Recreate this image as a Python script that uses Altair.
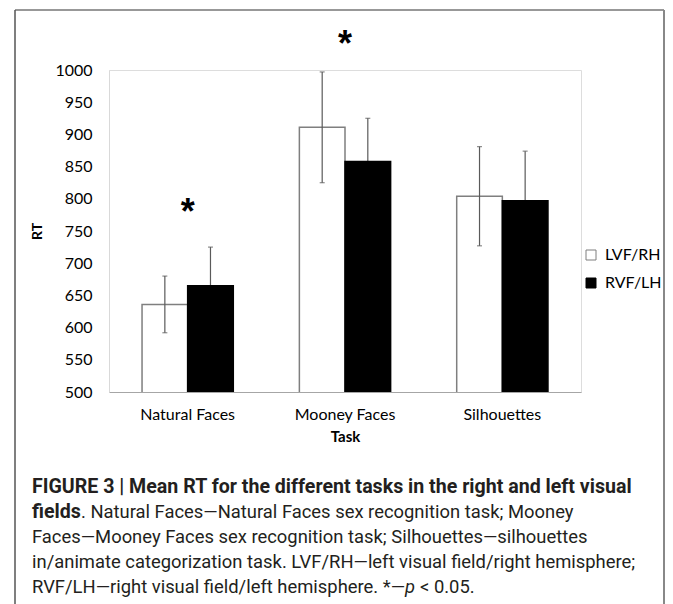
import altair as alt
import pandas as pd

tasks = ["Natural Faces", "Mooney Faces", "Silhouettes"]
fields = ["LVF/RH", "RVF/LH"]
lvf_mean = [636, 911, 804]
rvf_mean = [665, 858, 797]
lvf_err = [44, 86, 77]
rvf_err = [60, 67, 77]
sig_tasks = ["Natural Faces", "Mooney Faces"]
sig_marks = ["*", "*"]
y_ticks = [500, 550, 600, 650, 700, 750, 800, 850, 900, 950, 1000]

caption_1 = "FIGURE 3 | Mean RT for the different tasks in the right and left visual"
caption_2a = "fields"
caption_2b = ". Natural Faces\u2014Natural Faces sex recognition task; Mooney"
caption_3 = "Faces\u2014Mooney Faces sex recognition task; Silhouettes\u2014silhouettes"
caption_4 = "in/animate categorization task. LVF/RH\u2014left visual field/right hemisphere;"
caption_5a = "RVF/LH\u2014right visual field/left hemisphere. *\u2014"
caption_5b = "p"
caption_5c = "< 0.05."

rows = []
for i, t in enumerate(tasks):
    rows.append({"Task": t, "Field": fields[0], "RT": lvf_mean[i],
                 "lo": lvf_mean[i] - lvf_err[i], "hi": lvf_mean[i] + lvf_err[i]})
    rows.append({"Task": t, "Field": fields[1], "RT": rvf_mean[i],
                 "lo": rvf_mean[i] - rvf_err[i], "hi": rvf_mean[i] + rvf_err[i]})
df = pd.DataFrame(rows)
sig_df = pd.DataFrame({"Task": sig_tasks, "mark": sig_marks})
one = pd.DataFrame({"a": [0]})

FONT = "Lato"
CAP_FONT = "Roboto"
ERR_COLOR = "#5a5a5a"

x_axis = alt.Axis(title="Task", labelAngle=0, ticks=False,
                  domainColor="#a6a6a6", domainWidth=1.2,
                  labelFont=FONT, labelFontSize=16, labelColor="#000",
                  labelPadding=14, titleFont=FONT, titleFontSize=15,
                  titleFontWeight="bold", titleColor="#000", titlePadding=7)
x_scale = alt.Scale(paddingInner=0.42, paddingOuter=0.21)
x_enc = alt.X("Task:N", sort=tasks, scale=x_scale, axis=x_axis)
xo_enc = alt.XOffset("Field:N", sort=fields)

y_scale = alt.Scale(domain=[500, 1000], nice=False, zero=False)
y_axis = alt.Axis(values=y_ticks, format="d", grid=False, ticks=False,
                  domainColor="#d9d9d9", labelFont=FONT, labelFontSize=16,
                  labelColor="#000", labelPadding=17, title="RT",
                  titleFont=FONT, titleFontSize=14, titleFontWeight="bold",
                  titleColor="#000", titlePadding=10)

def Y(field):
    return alt.Y(field, scale=y_scale, axis=y_axis)

base = alt.Chart(df)

def errbars(field):
    b = base.transform_filter(alt.datum.Field == field)
    rule = b.mark_rule(color=ERR_COLOR, strokeWidth=1.2).encode(
        x=x_enc, xOffset=xo_enc, y=Y("lo:Q"), y2="hi:Q")
    cap_hi = b.mark_tick(color=ERR_COLOR, thickness=1.2, size=5).encode(
        x=x_enc, xOffset=xo_enc, y=Y("hi:Q"))
    cap_lo = b.mark_tick(color=ERR_COLOR, thickness=1.2, size=5).encode(
        x=x_enc, xOffset=xo_enc, y=Y("lo:Q"))
    return rule + cap_hi + cap_lo

bars = base.mark_bar(strokeWidth=1.5, clip=True).encode(
    x=x_enc, xOffset=xo_enc, y=Y("RT:Q"),
    color=alt.Color("Field:N", sort=fields,
                    scale=alt.Scale(domain=fields, range=["#ffffff", "#000000"]),
                    legend=alt.Legend(title=None, orient="none", legendX=474, legendY=177,
                                      symbolType="square", symbolSize=100,
                                      symbolStrokeColor="#404040", symbolStrokeWidth=1,
                                      labelFont=FONT, labelFontSize=16, labelColor="#000",
                                      labelOffset=6, rowPadding=12, padding=0)),
    stroke=alt.Stroke("Field:N", sort=fields,
                      scale=alt.Scale(domain=fields, range=["#7f7f7f", "#000000"]),
                      legend=None),
)

def star(task, ypix):
    return alt.Chart(sig_df).transform_filter(alt.datum.Task == task).mark_text(
        font="Liberation Sans", fontWeight="bold", fontSize=36, color="#000",
        baseline="alphabetic").encode(
        x=alt.X("Task:N", sort=tasks, scale=x_scale, axis=x_axis),
        text="mark:N", y=alt.value(ypix))

stars = star("Natural Faces", 154) + star("Mooney Faces", -14)

# figure frame
frame_top = alt.Chart(one).mark_rule(color="#333333", strokeWidth=1.2).encode(
    x=alt.value(-94), x2=alt.value(555), y=alt.value(-60))
frame_left = alt.Chart(one).mark_rule(color="#555555", strokeWidth=1.5).encode(
    x=alt.value(-94), y=alt.value(-60), y2=alt.value(620))
frame_right = alt.Chart(one).mark_rule(color="#888888", strokeWidth=2).encode(
    x=alt.value(555), y=alt.value(-60), y2=alt.value(620))

def cap(text, x, y, weight="normal", style="normal", size=18.4):
    return alt.Chart(one).mark_text(
        text=text, font=CAP_FONT, fontSize=size, fontWeight=weight, fontStyle=style,
        color="#231f20", align="left", baseline="alphabetic").encode(
        x=alt.value(x), y=alt.value(y))

CX = -77
captions = (cap(caption_1, CX, 423, "bold", size=19.6)
            + cap(caption_2a, CX, 448, "bold", size=19.6)
            + cap(caption_2b, -28, 448)
            + cap(caption_3, CX, 473)
            + cap(caption_4, CX, 498)
            + cap(caption_5a, CX, 523)
            + cap(caption_5b, 296, 523, style="italic")
            + cap(caption_5c, 311, 523))

chart = alt.layer(
    errbars("RVF/LH"), bars, errbars("LVF/RH"), stars,
    frame_top, frame_left, frame_right, captions,
).properties(
    width=472, height=322,
    padding={"left": 101, "top": 62, "right": 84, "bottom": 212},
    autosize=alt.AutoSizeParams(type="none"),
).configure_view(stroke=None).configure(background="white")

chart.save("out.html", embed_options={"renderer": "svg", "actions": False})
